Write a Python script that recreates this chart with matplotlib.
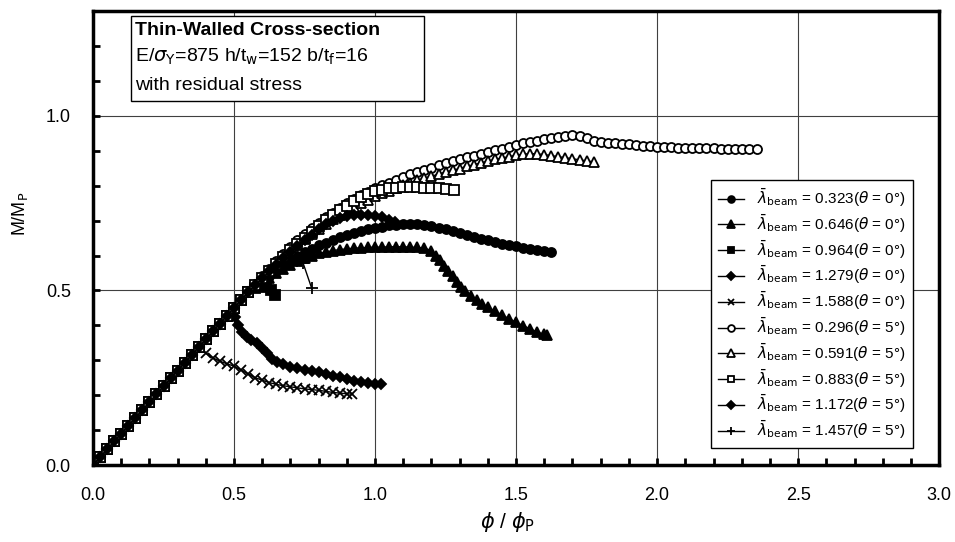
import matplotlib
matplotlib.use("Agg")
import matplotlib.pyplot as plt
from matplotlib.patches import Rectangle

plt.rcParams['font.family'] = ['Liberation Sans', 'DejaVu Sans']
plt.rcParams['mathtext.fontset'] = 'dejavusans'

# shared elastic branch (all curves start on it)
elastic_phi = [0.000, 0.025, 0.050, 0.075, 0.100, 0.125, 0.150, 0.175, 0.200, 0.225, 0.250, 0.275,
               0.300, 0.325, 0.350, 0.375, 0.400, 0.425, 0.450, 0.475, 0.500, 0.525, 0.550]
elastic_m = [0.000, 0.023, 0.045, 0.068, 0.090, 0.113, 0.135, 0.158, 0.180, 0.203, 0.225, 0.248,
             0.270, 0.293, 0.315, 0.338, 0.360, 0.383, 0.405, 0.428, 0.450, 0.473, 0.495]

# theta = 0 deg
c0323_phi = [0.575, 0.600, 0.625, 0.650, 0.675, 0.700, 0.725, 0.750, 0.775, 0.800, 0.825, 0.850,
             0.875, 0.900, 0.925, 0.950, 0.975, 1.000, 1.025, 1.050, 1.075, 1.100, 1.125, 1.150,
             1.175, 1.200, 1.225, 1.250, 1.275, 1.300, 1.325, 1.350, 1.375, 1.400, 1.425, 1.450,
             1.475, 1.500, 1.525, 1.550, 1.575, 1.600, 1.625]
c0323_m = [0.512, 0.527, 0.542, 0.557, 0.572, 0.586, 0.599, 0.610, 0.620, 0.629, 0.637, 0.645,
           0.652, 0.659, 0.665, 0.670, 0.675, 0.679, 0.683, 0.686, 0.688, 0.689, 0.690, 0.689,
           0.687, 0.684, 0.680, 0.675, 0.670, 0.664, 0.659, 0.653, 0.648, 0.643, 0.638, 0.634,
           0.630, 0.626, 0.622, 0.619, 0.616, 0.613, 0.610]

c0646_phi = [0.575, 0.600, 0.625, 0.650, 0.675, 0.700, 0.725, 0.750, 0.775, 0.800, 0.825, 0.850,
             0.875, 0.900, 0.925, 0.950, 0.975, 1.000, 1.025, 1.050, 1.075, 1.100, 1.125, 1.150,
             1.175, 1.200, 1.215, 1.230, 1.245, 1.260, 1.275, 1.290, 1.305, 1.320, 1.340, 1.360,
             1.380, 1.400, 1.425, 1.450, 1.475, 1.500, 1.525, 1.550, 1.575, 1.600, 1.610]
c0646_m = [0.510, 0.524, 0.537, 0.550, 0.562, 0.574, 0.584, 0.593, 0.600, 0.606, 0.610, 0.614,
           0.617, 0.619, 0.621, 0.622, 0.623, 0.624, 0.624, 0.625, 0.625, 0.625, 0.624, 0.623,
           0.621, 0.614, 0.600, 0.587, 0.570, 0.555, 0.540, 0.525, 0.510, 0.497, 0.485, 0.473,
           0.462, 0.452, 0.441, 0.430, 0.419, 0.409, 0.399, 0.390, 0.381, 0.374, 0.372]

c0964_phi = [0.575, 0.600, 0.615, 0.630, 0.645]
c0964_m = [0.508, 0.514, 0.510, 0.500, 0.487]

c1279_phi = [0.505, 0.515, 0.530, 0.545, 0.560, 0.580, 0.600, 0.616, 0.635, 0.651, 0.675, 0.700,
             0.722, 0.750, 0.775, 0.800, 0.825, 0.850, 0.875, 0.900, 0.925, 0.950, 0.975, 1.000,
             1.020]
c1279_m = [0.425, 0.400, 0.380, 0.366, 0.358, 0.349, 0.335, 0.320, 0.305, 0.296, 0.288, 0.282,
           0.278, 0.273, 0.268, 0.265, 0.261, 0.256, 0.251, 0.246, 0.242, 0.238, 0.235, 0.232,
           0.231]

c1588_phi = [0.400, 0.425, 0.450, 0.475, 0.500, 0.525, 0.550, 0.575, 0.600, 0.625, 0.650, 0.675,
             0.700, 0.725, 0.750, 0.775, 0.800, 0.825, 0.850, 0.875, 0.900, 0.920]
c1588_m = [0.320, 0.307, 0.297, 0.290, 0.283, 0.272, 0.261, 0.250, 0.243, 0.236, 0.231, 0.227,
           0.224, 0.221, 0.218, 0.216, 0.214, 0.211, 0.208, 0.206, 0.204, 0.203]

# theta = 5 deg
c0296_phi = [0.575, 0.600, 0.625, 0.650, 0.675, 0.700, 0.725, 0.750, 0.775, 0.800, 0.825, 0.850,
             0.875, 0.900, 0.925, 0.950, 0.975, 1.000, 1.025, 1.050, 1.075, 1.100, 1.125, 1.150,
             1.175, 1.200, 1.225, 1.250, 1.275, 1.300, 1.325, 1.350, 1.375, 1.400, 1.425, 1.450,
             1.475, 1.500, 1.525, 1.550, 1.575, 1.600, 1.625, 1.650, 1.675, 1.700, 1.725, 1.750,
             1.775, 1.800, 1.825, 1.850, 1.875, 1.900, 1.925, 1.950, 1.975, 2.000, 2.025, 2.050,
             2.075, 2.100, 2.125, 2.150, 2.175, 2.200, 2.225, 2.250, 2.275, 2.300, 2.325, 2.355]
c0296_m = [0.518, 0.540, 0.562, 0.583, 0.604, 0.624, 0.643, 0.661, 0.678, 0.694, 0.709, 0.723,
           0.737, 0.750, 0.762, 0.773, 0.783, 0.792, 0.801, 0.809, 0.817, 0.825, 0.832, 0.839,
           0.846, 0.852, 0.858, 0.864, 0.870, 0.876, 0.881, 0.886, 0.891, 0.896, 0.901, 0.906,
           0.911, 0.916, 0.921, 0.925, 0.929, 0.933, 0.937, 0.940, 0.943, 0.945, 0.943, 0.937,
           0.929, 0.925, 0.923, 0.921, 0.920, 0.919, 0.917, 0.915, 0.913, 0.912, 0.911, 0.910,
           0.909, 0.909, 0.908, 0.908, 0.907, 0.907, 0.906, 0.906, 0.905, 0.905, 0.905, 0.905]

c0591_phi = [0.575, 0.600, 0.625, 0.650, 0.675, 0.700, 0.725, 0.750, 0.775, 0.800, 0.825, 0.850,
             0.875, 0.900, 0.925, 0.950, 0.975, 1.000, 1.025, 1.050, 1.075, 1.100, 1.125, 1.150,
             1.175, 1.200, 1.225, 1.250, 1.275, 1.300, 1.325, 1.350, 1.375, 1.400, 1.425, 1.450,
             1.475, 1.500, 1.525, 1.550, 1.575, 1.600, 1.625, 1.650, 1.675, 1.700, 1.725, 1.750,
             1.775]
c0591_m = [0.516, 0.537, 0.557, 0.577, 0.596, 0.614, 0.631, 0.647, 0.662, 0.677, 0.691, 0.704,
           0.716, 0.728, 0.739, 0.750, 0.760, 0.769, 0.778, 0.786, 0.794, 0.801, 0.808, 0.815,
           0.821, 0.827, 0.833, 0.839, 0.844, 0.849, 0.855, 0.860, 0.865, 0.870, 0.875, 0.879,
           0.883, 0.887, 0.890, 0.892, 0.891, 0.889, 0.886, 0.883, 0.880, 0.877, 0.874, 0.871,
           0.868]

c0883_phi = [0.575, 0.600, 0.625, 0.650, 0.675, 0.700, 0.725, 0.750, 0.775, 0.800, 0.825, 0.850,
             0.875, 0.900, 0.925, 0.950, 0.975, 1.000, 1.025, 1.050, 1.075, 1.100, 1.125, 1.150,
             1.175, 1.200, 1.225, 1.250, 1.280]
c0883_m = [0.516, 0.537, 0.557, 0.577, 0.596, 0.615, 0.633, 0.651, 0.668, 0.685, 0.701, 0.716,
           0.729, 0.741, 0.755, 0.767, 0.777, 0.784, 0.789, 0.792, 0.794, 0.795, 0.795, 0.795,
           0.794, 0.793, 0.792, 0.790, 0.789]

c1172_phi = [0.575, 0.600, 0.625, 0.650, 0.675, 0.700, 0.725, 0.750, 0.775, 0.800, 0.825, 0.850,
             0.875, 0.900, 0.925, 0.950, 0.975, 1.000, 1.025, 1.050, 1.070]
c1172_m = [0.515, 0.535, 0.555, 0.574, 0.592, 0.610, 0.627, 0.643, 0.660, 0.677, 0.690, 0.700,
           0.707, 0.712, 0.715, 0.716, 0.716, 0.714, 0.709, 0.702, 0.695]

c1457_phi = [0.575, 0.600, 0.625, 0.650, 0.675, 0.700, 0.725, 0.745, 0.775]
c1457_m = [0.515, 0.535, 0.553, 0.568, 0.578, 0.585, 0.585, 0.578, 0.507]

# label, theta, data, number of elastic points kept, marker, face, size
series = [
    ("0.323", "0", c0323_phi, c0323_m, 23, "o", "k", 6.5),
    ("0.646", "0", c0646_phi, c0646_m, 23, "^", "k", 7),
    ("0.964", "0", c0964_phi, c0964_m, 23, "s", "k", 6.5),
    ("1.279", "0", c1279_phi, c1279_m, 21, "D", "k", 5.5),
    ("1.588", "0", c1588_phi, c1588_m, 16, "x", "k", 6.5),
    ("0.296", "5", c0296_phi, c0296_m, 23, "o", "w", 6.5),
    ("0.591", "5", c0591_phi, c0591_m, 23, "^", "w", 7),
    ("0.883", "5", c0883_phi, c0883_m, 23, "s", "w", 6.5),
    ("1.172", "5", c1172_phi, c1172_m, 23, "D", "k", 5.5),
    ("1.457", "5", c1457_phi, c1457_m, 23, "+", "k", 8),
]

fig = plt.figure(figsize=(9.55, 5.42), dpi=100)
ax = fig.add_axes([0.0974, 0.142, 0.886, 0.8376])

for lam, th, ph, mm, n_el, mk, fc, ms in series:
    x = elastic_phi[:n_el] + ph
    y = elastic_m[:n_el] + mm
    lab = r"$\bar{\lambda}_{\rm beam}$ = " + lam + r"($\theta$ = " + th + "°)"
    if mk in ("x", "+"):
        ax.plot(x, y, color="k", lw=1, marker=mk, ms=ms, mew=1.3, label=lab)
    else:
        ax.plot(x, y, color="k", lw=1, marker=mk, ms=ms, mfc=fc, mec="k", mew=1.3, label=lab)

ax.set_xlim(0, 3.0)
ax.set_ylim(0, 1.3)
ax.set_xticks([0.0, 0.5, 1.0, 1.5, 2.0, 2.5, 3.0])
ax.set_xticklabels(["0.0", "0.5", "1.0", "1.5", "2.0", "2.5", "3.0"])
ax.set_yticks([0.0, 0.5, 1.0])
ax.set_yticklabels(["0.0", "0.5", "1.0"])
ax.set_xticks([i / 10 for i in range(31)], minor=True)
ax.set_yticks([i / 10 for i in range(14)], minor=True)
ax.tick_params(which="both", direction="in", length=5, width=2, labelsize=13, pad=16)
ax.grid(True, which="major", color="0.25", lw=0.8)
for s in ax.spines.values():
    s.set_linewidth(2.5)

ax.set_xlabel(r"$\phi$ / $\phi_{\rm P}$", fontsize=15)
ax.xaxis.set_label_coords(0.49, -0.098)
ax.set_ylabel(r"M/M$_{\rm P}$", fontsize=13)
ax.yaxis.set_label_coords(-0.075, 0.553)

# info box, upper left
ax.add_patch(Rectangle((0.0449, 0.802), 0.346, 0.187, transform=ax.transAxes,
                       facecolor="white", edgecolor="k", lw=1, zorder=5))
ax.text(0.0496, 0.958, "Thin-Walled Cross-section", transform=ax.transAxes,
        fontsize=14, fontweight="bold", va="center", zorder=6)
ax.text(0.0496, 0.899, r"E/$\sigma_{\rm Y}$=875 h/t$_{\rm w}$=152 b/t$_{\rm f}$=16",
        transform=ax.transAxes, fontsize=14, va="center", zorder=6)
ax.text(0.0496, 0.837, "with residual stress", transform=ax.transAxes,
        fontsize=14, va="center", zorder=6)

leg = ax.legend(loc="upper left", bbox_to_anchor=(0.730, 0.628), borderaxespad=0,
                fontsize=11, frameon=True, fancybox=False, framealpha=1,
                edgecolor="k", handlelength=1.7, handletextpad=0.9,
                labelspacing=0.24, borderpad=0.45, markerscale=0.75)
leg.get_frame().set_linewidth(1)

fig.savefig("out.png", dpi=100)
